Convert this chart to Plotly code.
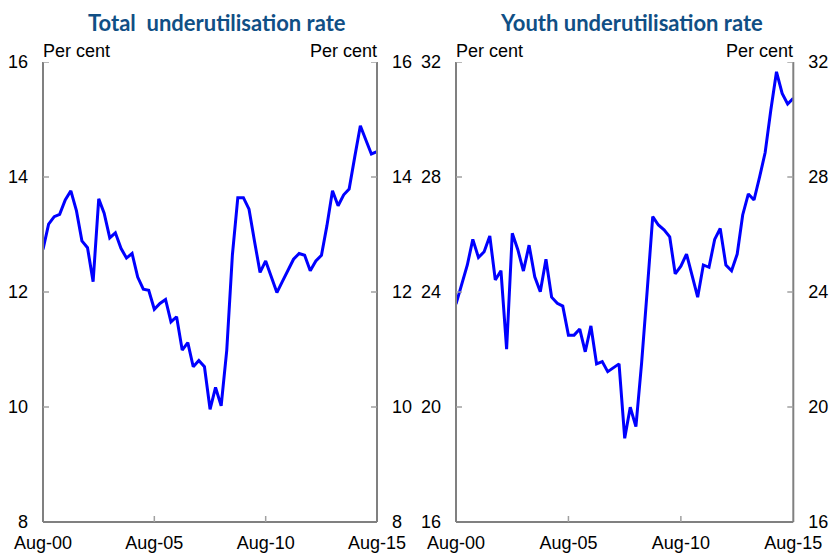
import plotly.graph_objects as go

# Quarterly observations, Aug-2000 to Aug-2015
months = ["02", "05", "08", "11"]
dates = []
for yr in range(2000, 2016):
    for m in months:
        d = f"{yr}-{m}-01"
        if "2000-08-01" <= d <= "2015-08-01":
            dates.append(d)

total_rate = [12.74, 13.18, 13.31, 13.35, 13.60, 13.76, 13.41, 12.89, 12.77, 12.18,
              13.62, 13.37, 12.94, 13.03, 12.76, 12.59, 12.67, 12.26, 12.05, 12.03,
              11.70, 11.80, 11.87, 11.48, 11.57, 10.99, 11.12, 10.70, 10.81, 10.70,
              9.96, 10.34, 10.02, 10.99, 12.64, 13.64, 13.64, 13.44, 12.87, 12.34,
              12.54, 12.26, 11.99, 12.18, 12.37, 12.57, 12.67, 12.64, 12.37, 12.54,
              12.64, 13.15, 13.76, 13.50, 13.69, 13.79, 14.35, 14.89, 14.64, 14.40,
              14.44]

youth_rate = [23.58, 24.30, 24.94, 25.83, 25.20, 25.40, 25.95, 24.42, 24.74, 22.01,
              26.04, 25.48, 24.73, 25.63, 24.53, 24.01, 25.14, 23.82, 23.61, 23.51,
              22.50, 22.50, 22.71, 21.92, 22.82, 21.50, 21.58, 21.23, 21.35, 21.50,
              18.91, 19.99, 19.32, 21.52, 24.07, 26.62, 26.33, 26.16, 25.92, 24.63,
              24.90, 25.32, 24.56, 23.82, 24.94, 24.86, 25.83, 26.21, 24.94, 24.74,
              25.32, 26.68, 27.41, 27.20, 28.01, 28.85, 30.33, 31.66, 30.91, 30.54,
              30.74]

x_tick_vals = ["2000-08-01", "2005-08-01", "2010-08-01", "2015-08-01"]
x_tick_text = ["Aug-00", "Aug-05", "Aug-10", "Aug-15"]
total_ticks = [8, 10, 12, 14, 16]
youth_ticks = [16, 20, 24, 28, 32]

titles = ["Total  underutilisation rate", "Youth underutilisation rate"]
unit_label = "Per cent"

W, H = 832, 556
AXIS_GREY = "#808080"
TICK_GREY = "#a0a0a0"
LINE_BLUE = "#0000FF"
TITLE_BLUE = "#104F85"
TICK_FONT = dict(family="Liberation Sans, Arial", size=18, color="black")
TICK_LEN = 6

# Panel pixel geometry
panels = [(43, 377), (456, 793.3)]
top_px, bot_px = 62, 522
ydom = [(H - bot_px) / H, (H - top_px) / H]

fig = go.Figure()

series = [total_rate, youth_rate]
ticks = [total_ticks, youth_ticks]
for i, vals in enumerate(series):
    xa = "x" if i == 0 else "x2"
    ya_l = "y" if i == 0 else "y3"
    ya_r = "y2" if i == 0 else "y4"
    fig.add_trace(go.Scatter(x=dates, y=vals, mode="lines", xaxis=xa, yaxis=ya_l,
                             line=dict(color=LINE_BLUE, width=3), showlegend=False,
                             hoverinfo="x+y", cliponaxis=False))
    fig.add_trace(go.Scatter(x=dates, y=vals, mode="lines", xaxis=xa, yaxis=ya_r,
                             line=dict(color=LINE_BLUE, width=0), opacity=0,
                             showlegend=False, hoverinfo="skip"))

xcommon = dict(type="date", range=["2000-08-01", "2015-08-01"], tickvals=x_tick_vals,
               ticktext=x_tick_text, ticks="", showline=False, showgrid=False,
               zeroline=False, tickfont=TICK_FONT, ticklabelstandoff=8,
               automargin=False)

layout = dict(width=W, height=H, margin=dict(l=0, r=0, t=0, b=0, autoexpand=False),
              plot_bgcolor="white", paper_bgcolor="white", showlegend=False)

shapes = []
for i, (x0, x1) in enumerate(panels):
    xd = [x0 / W, x1 / W]
    tks = ticks[i]
    rng = [tks[0], tks[-1]]
    xkey = "xaxis" if i == 0 else "xaxis2"
    lkey = "yaxis" if i == 0 else "yaxis3"
    rkey = "yaxis2" if i == 0 else "yaxis4"
    xname = "x" if i == 0 else "x2"
    lname = "y" if i == 0 else "y3"
    layout[xkey] = dict(xcommon, domain=xd, anchor=lname)
    ycommon = dict(range=rng, tickvals=tks, ticks="", showline=False, showgrid=False,
                   zeroline=False, tickfont=TICK_FONT, ticklabelstandoff=14,
                   automargin=False)
    layout[lkey] = dict(ycommon, domain=ydom, anchor=xname, side="left")
    layout[rkey] = dict(ycommon, overlaying=lname, anchor=xname, side="right")

    xdref = xname + " domain"
    ydref = lname + " domain"
    pw = x1 - x0
    ph = bot_px - top_px
    # axis lines: left, right, bottom
    for xx in (0, 1):
        shapes.append(dict(type="line", xref=xdref, yref=ydref, x0=xx, x1=xx, y0=0, y1=1,
                           line=dict(color=AXIS_GREY, width=2)))
    shapes.append(dict(type="line", xref=xdref, yref=ydref, x0=0, x1=1, y0=0, y1=0,
                       line=dict(color=AXIS_GREY, width=2)))
    # inward y ticks on both sides
    for v in tks[1:]:
        shapes.append(dict(type="line", xref=xdref, yref=lname, x0=0, x1=TICK_LEN / pw,
                           y0=v, y1=v, line=dict(color=TICK_GREY, width=1.5)))
        shapes.append(dict(type="line", xref=xdref, yref=lname, x0=1 - TICK_LEN / pw,
                           x1=1, y0=v, y1=v, line=dict(color=TICK_GREY, width=1.5)))
    # inward x ticks
    for tv in x_tick_vals[1:-1]:
        shapes.append(dict(type="line", xref=xname, yref=ydref, x0=tv, x1=tv, y0=0,
                           y1=TICK_LEN / ph, line=dict(color=TICK_GREY, width=1.5)))

fig.update_layout(**layout)

annotations = []
for i, (x0, x1) in enumerate(panels):
    annotations.append(dict(text=f"<b>{titles[i]}</b>", xref="paper", yref="paper",
                            x=((x0 + x1) / 2 + 7) / W, y=(H - 23) / H,
                            xanchor="center", yanchor="middle", showarrow=False,
                            font=dict(family="Lato", size=22, color=TITLE_BLUE)))
    annotations.append(dict(text=unit_label, xref="paper", yref="paper",
                            x=(x0 - 2) / W, y=(H - 51) / H, xanchor="left",
                            yanchor="middle", showarrow=False, font=TICK_FONT))
    annotations.append(dict(text=unit_label, xref="paper", yref="paper",
                            x=(x1 + 2) / W, y=(H - 51) / H, xanchor="right",
                            yanchor="middle", showarrow=False, font=TICK_FONT))
fig.update_layout(annotations=annotations, shapes=shapes)

fig.write_html("out.html", config={"displayModeBar": False},
               post_script="document.body.style.margin='0';")
